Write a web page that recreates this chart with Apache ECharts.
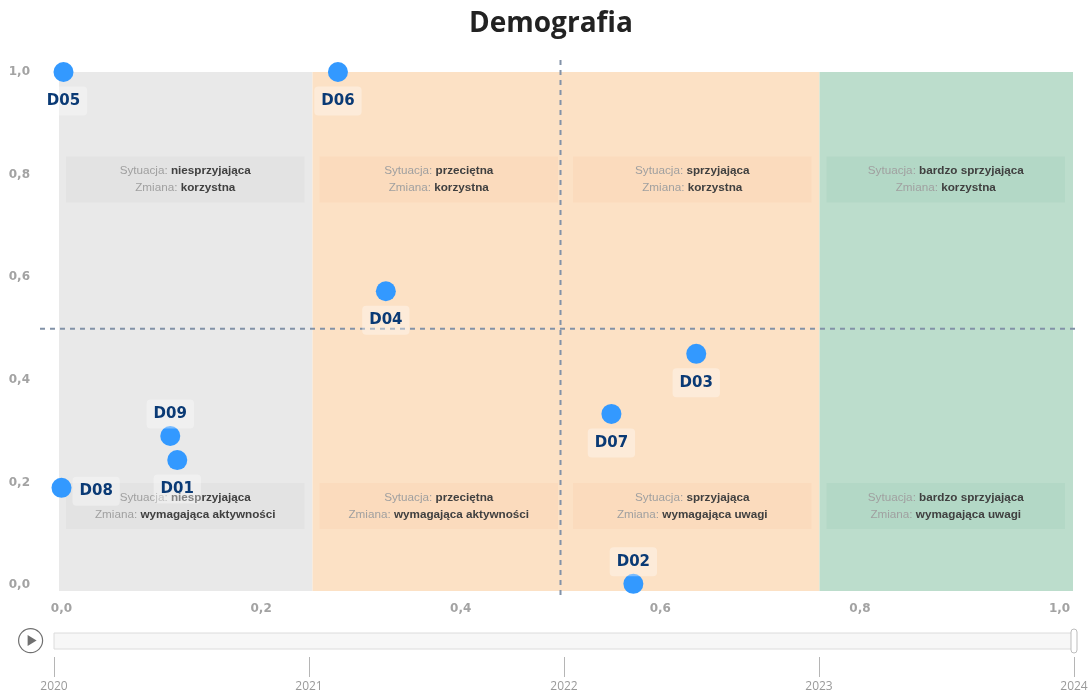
<!DOCTYPE html>
<html>
<head>
<meta charset="utf-8">
<title>Demografia</title>
<script src="https://cdn.jsdelivr.net/npm/echarts@6/dist/echarts.min.js"></script>
<style>
  html, body { margin: 0; padding: 0; background: #ffffff; }
  #chart { width: 1091px; height: 695px; }
</style>
</head>
<body>
<div id="chart"></div>
<script>
// Indicator codes and their positions (x: situation, y: change)
const codes = ['D01', 'D02', 'D03', 'D04', 'D05', 'D06', 'D07', 'D08', 'D09'];
const situationValues = [0.116, 0.573, 0.636, 0.325, 0.002, 0.277, 0.551, 0.0, 0.109];
const changeValues = [0.244, 0.003, 0.451, 0.573, 1.0, 1.0, 0.334, 0.190, 0.291];

// Thresholds splitting the chart into quadrants
const situationThreshold = [0.5];
const changeThreshold = [0.5];

// Background bands (fraction of the plot width) and their descriptions
const bandEdges = [0, 0.25, 0.5, 0.75, 1];
const situations = ['niesprzyjająca', 'przeciętna', 'sprzyjająca', 'bardzo sprzyjająca'];
const changesUpper = ['korzystna', 'korzystna', 'korzystna', 'korzystna'];
const changesLower = ['wymagająca aktywności', 'wymagająca aktywności', 'wymagająca uwagi', 'wymagająca uwagi'];

// Timeline years
const years = ['2020', '2021', '2022', '2023', '2024'];
const currentYear = ['2024'];

// ---- styling ----
const bandFill = ['#e9e9e9', '#fce1c5', '#fce1c5', '#bcddcc'];
const boxFill = ['#e3e3e3', '#fbdbbd', '#fbdbbd', '#b3d8c6'];
const boxRows = [0.793, 0.164];   // vertical centre of description boxes (fraction of plot height)
const labelSide = { D02: 'top', D08: 'right', D09: 'top' };

const chart = echarts.init(document.getElementById('chart'), null, { renderer: 'canvas' });

const fmtTick = v => {
  const k = v / 0.2;
  if (Math.abs(k - Math.round(k)) > 1e-6) return '';
  return v.toFixed(1).replace('.', ',');
};

const axisLabelStyle = {
  color: '#a3a3a3',
  fontFamily: 'DejaVu Sans',
  fontWeight: 'bold',
  fontSize: 12
};

const bandData = situations.map((s, i) => [bandEdges[i], bandEdges[i + 1], i]);

const option = {
  animation: false,
  backgroundColor: '#ffffff',
  title: {
    text: 'Demografia',
    left: 464,
    top: 5,
    textStyle: { fontFamily: 'Open Sans', fontWeight: 'bold', fontSize: 28, color: '#222222' }
  },
  grid: [
    // plot area
    { left: 59, right: 18, top: 72, bottom: 104 },
    // timeline track
    { left: 54, width: 1020, top: 633, height: 16, show: true,
      backgroundColor: '#f7f7f7', borderColor: '#dcdcdc', borderWidth: 1 },
    // timeline scale
    { left: 54, width: 1020, top: 640, height: 17 }
  ],
  xAxis: [
    { type: 'value', gridIndex: 0, min: -0.0025, max: 1.0135, splitNumber: 5,
      axisLine: { show: false }, axisTick: { show: false }, splitLine: { show: false },
      axisLabel: Object.assign({ margin: 12, formatter: fmtTick }, axisLabelStyle) },
    { type: 'value', gridIndex: 0, min: 0, max: 1, show: false },
    { type: 'category', gridIndex: 1, data: years, boundaryGap: false, show: false },
    { type: 'category', gridIndex: 2, data: years, boundaryGap: false,
      axisLine: { show: false },
      axisTick: { show: true, length: 20, lineStyle: { color: '#b5b5b5' } },
      axisLabel: { color: '#9a9a9a', fontFamily: 'Open Sans', fontSize: 12, margin: 24 },
      splitLine: { show: false } }
  ],
  yAxis: [
    { type: 'value', gridIndex: 0, min: -0.011, max: 1.0, splitNumber: 5,
      axisLine: { show: false }, axisTick: { show: false }, splitLine: { show: false },
      axisLabel: Object.assign({ margin: 29, formatter: fmtTick }, axisLabelStyle) },
    { type: 'value', gridIndex: 0, min: 0, max: 1, show: false },
    { type: 'value', gridIndex: 1, min: 0, max: 1, show: false },
    { type: 'value', gridIndex: 2, min: 0, max: 1, show: false }
  ],
  graphic: [
    {
      type: 'group', left: 18, top: 628,
      children: [
        { type: 'circle', shape: { cx: 13, cy: 13, r: 12 },
          style: { fill: '#ffffff', stroke: '#707070', lineWidth: 1.2 } },
        { type: 'polygon', shape: { points: [[10, 7.5], [10, 18.5], [19, 13]] },
          style: { fill: '#707070' } }
      ]
    }
  ],
  series: [
    {
      // coloured bands with their description boxes
      type: 'custom',
      xAxisIndex: 1, yAxisIndex: 1,
      silent: true, z: 1,
      data: bandData,
      renderItem(params, api) {
        const i = api.value(2);
        const tl = api.coord([api.value(0), 1]);
        const br = api.coord([api.value(1), 0]);
        const w = br[0] - tl[0];
        const children = [{
          type: 'rect',
          shape: { x: tl[0], y: tl[1], width: w, height: br[1] - tl[1] },
          style: { fill: bandFill[i] }
        }];
        const texts = [changesUpper[i], changesLower[i]];
        boxRows.forEach((row, r) => {
          const cy = api.coord([api.value(0), row])[1];
          const bx = tl[0] + 7, bw = w - 15, bh = 46;
          children.push({
            type: 'rect',
            shape: { x: bx, y: cy - bh / 2, width: bw, height: bh },
            style: { fill: boxFill[i] }
          });
          children.push({
            type: 'text',
            x: bx + bw / 2, y: cy,
            style: {
              text: '{l|Sytuacja: }{v|' + situations[i] + '}\n{l|Zmiana: }{v|' + texts[r] + '}',
              align: 'center', verticalAlign: 'middle',
              rich: {
                l: { fontFamily: 'Liberation Sans', fontSize: 11.7, fill: '#a0a0a0', lineHeight: 17 },
                v: { fontFamily: 'Liberation Sans', fontSize: 11.7, fill: '#404040', fontWeight: 'bold', lineHeight: 17 }
              }
            }
          });
        });
        return { type: 'group', children };
      }
    },
    {
      // dashed threshold lines
      type: 'custom',
      xAxisIndex: 0, yAxisIndex: 0,
      silent: true, z: 2, clip: false,
      data: [[situationThreshold[0], changeThreshold[0]]],
      renderItem(params, api) {
        const cs = params.coordSys;
        const p = api.coord([api.value(0), api.value(1)]);
        const ls = { stroke: '#8292a8', lineWidth: 2, lineDash: [5, 5] };
        return {
          type: 'group',
          children: [
            { type: 'line', shape: { x1: p[0], y1: cs.y - 12, x2: p[0], y2: cs.y + cs.height + 8 }, style: ls },
            { type: 'line', shape: { x1: cs.x - 19, y1: p[1], x2: cs.x + cs.width + 7, y2: p[1] }, style: ls }
          ]
        };
      }
    },
    {
      type: 'scatter',
      xAxisIndex: 0, yAxisIndex: 0,
      z: 5, clip: false,
      symbolSize: 20,
      itemStyle: { color: '#3399ff', opacity: 1 },
      data: codes.map((c, i) => ({
        name: c,
        value: [situationValues[i], changeValues[i]],
        label: { position: labelSide[c] || 'bottom' }
      })),
      label: {
        show: true,
        formatter: '{b}',
        distance: 1,
        offset: [0, 3.5],
        fontFamily: 'DejaVu Sans',
        fontWeight: 'bold',
        fontSize: 15,
        color: '#0a3a75',
        backgroundColor: 'rgba(255,255,255,0.35)',
        borderRadius: 4,
        padding: [7, 7]
      }
    },
    {
      // timeline handle
      type: 'custom',
      xAxisIndex: 2, yAxisIndex: 2,
      silent: true, z: 5, clip: false,
      data: currentYear.map(y => [y, 0.5]),
      renderItem(params, api) {
        const p = api.coord([api.value(0), 0.5]);
        return {
          type: 'rect',
          shape: { x: p[0] - 3, y: p[1] - 12, width: 6, height: 24, r: 3 },
          style: { fill: '#ffffff', stroke: '#bdbdbd', lineWidth: 1 }
        };
      }
    }
  ]
};

chart.setOption(option);
</script>
</body>
</html>
